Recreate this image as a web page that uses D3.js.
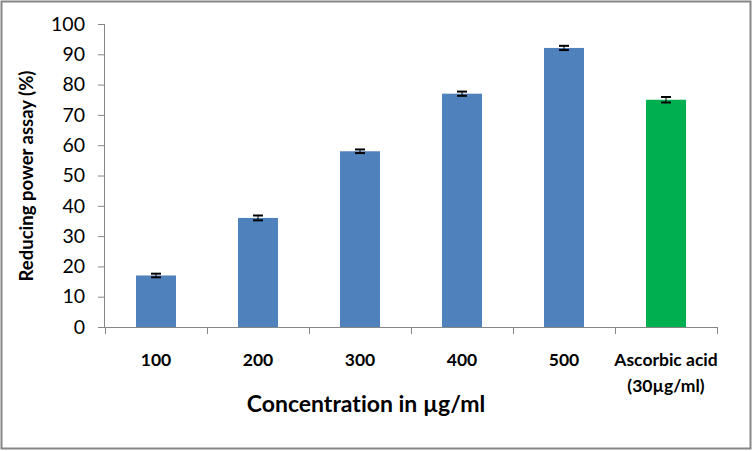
<!DOCTYPE html>
<html><head><meta charset="utf-8">
<script src="https://cdn.jsdelivr.net/npm/d3@7"></script>
<style>body{margin:0;background:#fff}svg{display:block}text{font-variant-ligatures:none;font-feature-settings:"liga" 0}</style>
</head><body><svg id="c" width="753" height="451"></svg>
<script>
const categories = ["100","200","300","400","500","Ascorbic acid\n(30µg/ml)"];
const values = [17, 36, 58, 77, 92.1, 75];
const errors = [0.6, 0.8, 0.6, 0.7, 0.7, 0.9];
const colors = ["#4F81BD","#4F81BD","#4F81BD","#4F81BD","#4F81BD","#00B050"];
const yTicks = [0,10,20,30,40,50,60,70,80,90,100];

(function(){
const svg = d3.select("#c");
svg.append("rect").attr("x",1.5).attr("y",1.5).attr("width",749).attr("height",447)
  .attr("fill","#fff").attr("stroke","#868686").attr("stroke-width",2);

const pl=105, pr=717, pt=24, pb=327;
const xb = d3.scaleBand().domain(categories).range([pl,pr]);
const y = d3.scaleLinear().domain([0,100]).range([pb,pt]);
const ff = "Lato, 'Open Sans', sans-serif";

// y axis
const ya = svg.append("g").attr("transform",`translate(${pl},0)`)
  .call(d3.axisLeft(y).tickValues(yTicks).tickSize(7).tickPadding(13));
ya.select(".domain").attr("stroke","#868686").attr("d",`M-0.5,${pt}V${pb}`);
ya.selectAll(".tick line").attr("stroke","#868686");
ya.selectAll(".tick text").attr("font-family",ff).attr("font-size",19.5).attr("fill","#000");

// x axis
const xg = svg.append("g").attr("transform",`translate(0,${pb})`);
xg.append("line").attr("x1",pl).attr("x2",pr).attr("y1",0.5).attr("y2",0.5).attr("stroke","#868686");
const bounds = categories.map(c=>xb(c)).concat([pr]);
xg.selectAll("line.t").data(bounds).join("line").attr("class","t")
  .attr("x1",d=>Math.round(d)+0.5).attr("x2",d=>Math.round(d)+0.5).attr("y1",0).attr("y2",7).attr("stroke","#868686");
const lbl = xg.selectAll("text.l").data(categories).join("text").attr("class","l")
  .attr("x",d=>xb(d)+xb.bandwidth()/2).attr("text-anchor","middle")
  .attr("font-family",ff).attr("font-weight","bold").attr("font-size",17.5).attr("fill","#000");
lbl.each(function(d){
  const lines=d.split("\n");
  d3.select(this).selectAll("tspan").data(lines).join("tspan")
    .attr("x",xb(d)+xb.bandwidth()/2).attr("y",(l,i)=>39+i*26).text(l=>l);
});

// bars
const bw = 40;
svg.append("g").selectAll("rect").data(categories).join("rect")
  .attr("x",(d)=>xb(d)+xb.bandwidth()/2-bw/2).attr("width",bw)
  .attr("y",(d,i)=>y(values[i])).attr("height",(d,i)=>pb-y(values[i]))
  .attr("fill",(d,i)=>colors[i]);

// error bars
const eg = svg.append("g").attr("stroke","#000").attr("stroke-width",2);
categories.forEach((c,i)=>{
  const cx = xb(c)+xb.bandwidth()/2;
  const y1=y(values[i]+errors[i]), y2=y(values[i]-errors[i]);
  eg.append("line").attr("x1",cx).attr("x2",cx).attr("y1",y1).attr("y2",y2).attr("stroke-width",1);
  eg.append("line").attr("x1",cx-5).attr("x2",cx+5).attr("y1",y1).attr("y2",y1);
  eg.append("line").attr("x1",cx-5).attr("x2",cx+5).attr("y1",y2).attr("y2",y2);
});

// titles
svg.append("text").attr("x",366).attr("y",412).attr("text-anchor","middle")
  .attr("font-family",ff).attr("font-weight","bold").attr("font-size",23).attr("fill","#000")
  .text("Concentration in µg/ml");
svg.append("text").attr("transform","translate(33,176) rotate(-90)").attr("text-anchor","middle")
  .attr("font-family",ff).attr("font-weight","bold").attr("font-size",18.5).attr("fill","#000")
  .text("Reducing power assay (%)");
})();
</script></body></html>
